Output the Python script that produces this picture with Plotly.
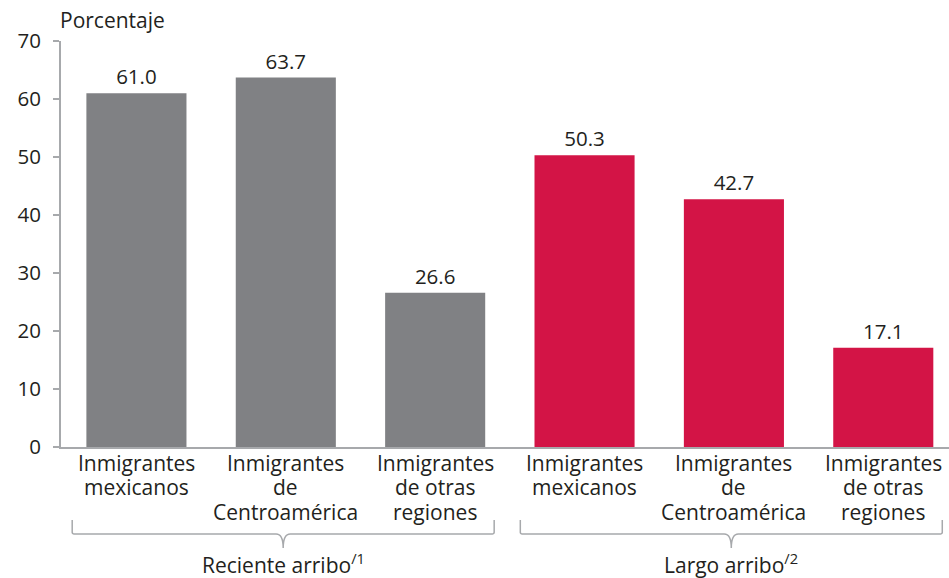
import plotly.graph_objects as go

# Data
categories = [
    ["Inmigrantes", "mexicanos"],
    ["Inmigrantes", "de", "Centroamérica"],
    ["Inmigrantes", "de otras", "regiones"],
]
groups = ["Reciente arribo<sup>/1</sup>", "Largo arribo<sup>/2</sup>"]
reciente = [61.0, 63.7, 26.6]
largo = [50.3, 42.7, 17.1]
y_ticks = [0, 10, 20, 30, 40, 50, 60, 70]

GRAY = "#808184"
RED = "#D31446"
TEXT = "#231F20"
AXIS = "#A7A9AC"
FONT = "Open Sans"
FS = 21

values = reciente + largo
colors = [GRAY] * len(reciente) + [RED] * len(largo)
x_pos = list(range(len(values)))
cat_lines = categories + categories

X_RANGE = [-0.505, 5.44]
PLOT_BOTTOM, PLOT_H = 447, 406  # pixel geometry of the plotting area


def py(pixel_y):
    """Vertical pixel position -> paper coordinate."""
    return (PLOT_BOTTOM - pixel_y) / PLOT_H


def to_paper(xv):
    return (xv - X_RANGE[0]) / (X_RANGE[1] - X_RANGE[0])


fig = go.Figure()
fig.add_trace(go.Bar(
    x=x_pos,
    y=values,
    width=0.67,
    marker=dict(color=colors, line=dict(width=0)),
    text=[f"{v:.1f}" for v in values],
    textposition="outside",
    textfont=dict(size=20.5, color=TEXT, family=FONT),
    cliponaxis=False,
    hoverinfo="skip",
))

shapes = []
annotations = []

# Category labels, one annotation per line for tight line spacing
line_centers = [463, 487.5, 512]
for xi, lines in zip(x_pos, cat_lines):
    for li, txt in enumerate(lines):
        annotations.append(dict(x=xi, y=py(line_centers[li]), xref="x", yref="paper",
                                text=txt, showarrow=False, xanchor="center", yanchor="middle",
                                font=dict(size=FS, color=TEXT, family=FONT)))

# Group brackets under the category labels
y_top, y_line, y_tip = py(520), py(534), py(548)
n = len(categories)
for g, label in enumerate(groups):
    first, last = g * n, g * n + n - 1
    x0 = to_paper(first - 0.43)
    x1 = to_paper(last + 0.395)
    xc = (x0 + x1) / 2
    path = (f"M {x0},{y_top} L {x0},{y_line + 0.004} Q {x0},{y_line} {x0 + 0.004},{y_line} "
            f"L {xc - 0.008},{y_line} Q {xc},{y_line} {xc},{y_tip} "
            f"Q {xc},{y_line} {xc + 0.008},{y_line} "
            f"L {x1 - 0.004},{y_line} Q {x1},{y_line} {x1},{y_line + 0.004} L {x1},{y_top}")
    shapes.append(dict(type="path", xref="paper", yref="paper", path=path,
                       line=dict(color=AXIS, width=1.5)))
    annotations.append(dict(x=xc, y=py(563), xref="paper", yref="paper",
                            text=label, showarrow=False, xanchor="center", yanchor="middle",
                            font=dict(size=FS, color=TEXT, family=FONT)))

annotations.append(dict(x=-0.003, y=py(20), xref="paper", yref="paper", text="Porcentaje",
                        showarrow=False, xanchor="left", yanchor="middle",
                        font=dict(size=FS, color=TEXT, family=FONT)))

fig.update_layout(
    width=949,
    height=578,
    margin=dict(l=61, r=0, t=41, b=131),
    paper_bgcolor="white",
    plot_bgcolor="white",
    showlegend=False,
    shapes=shapes,
    annotations=annotations,
    font=dict(family=FONT, color=TEXT, size=FS),
    xaxis=dict(
        range=X_RANGE,
        tickmode="array",
        tickvals=x_pos,
        showticklabels=False,
        showline=True,
        linecolor=AXIS,
        linewidth=2,
        ticks="",
        showgrid=False,
        zeroline=False,
        fixedrange=True,
    ),
    yaxis=dict(
        range=[0, 70],
        tickmode="array",
        tickvals=y_ticks,
        showline=True,
        linecolor=AXIS,
        linewidth=2,
        ticks="outside",
        ticklen=6,
        tickwidth=2,
        tickcolor=AXIS,
        ticklabelstandoff=8,
        showgrid=False,
        zeroline=False,
        tickfont=dict(size=20.5, color=TEXT, family=FONT),
        fixedrange=True,
    ),
)

fig.write_html("out.html", config={"displayModeBar": False})
